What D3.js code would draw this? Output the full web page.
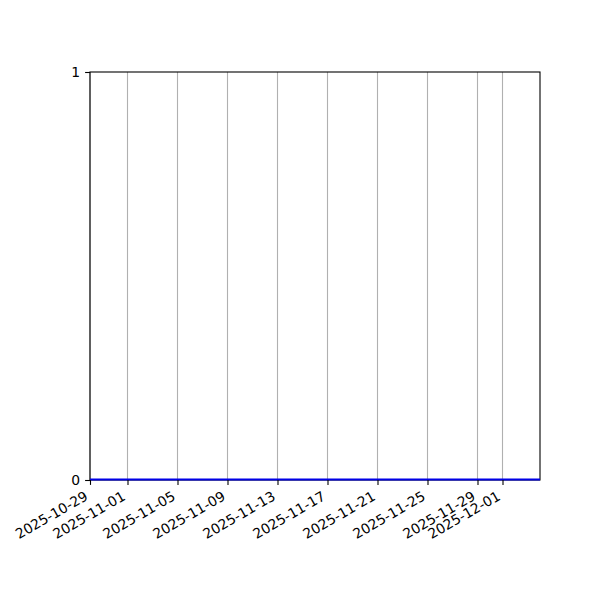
<!DOCTYPE html>
<html>
<head>
<meta charset="utf-8">
<script src="https://cdn.jsdelivr.net/npm/d3@7"></script>
<style>
  body { margin: 0; background: #fff; }
  text { font-family: "DejaVu Sans", sans-serif; }
</style>
</head>
<body>
<div class="canva"></div>
<script>
// data: one flat series at zero
var dates = ["2025-10-29","2025-10-30","2025-10-31","2025-11-01","2025-11-02","2025-11-03",
  "2025-11-04","2025-11-05","2025-11-06","2025-11-07","2025-11-08","2025-11-09","2025-11-10",
  "2025-11-11","2025-11-12","2025-11-13","2025-11-14","2025-11-15","2025-11-16","2025-11-17",
  "2025-11-18","2025-11-19","2025-11-20","2025-11-21","2025-11-22","2025-11-23","2025-11-24",
  "2025-11-25","2025-11-26","2025-11-27","2025-11-28","2025-11-29","2025-11-30","2025-12-01",
  "2025-12-02","2025-12-03","2025-12-04"];
var values = [0,0,0,0,0,0,0,0,0,0,0,0,0,0,0,0,0,0,0,0,0,0,0,0,0,0,0,0,0,0,0,0,0,0,0,0,0];
var xTickLabels = ["2025-10-29","2025-11-01","2025-11-05","2025-11-09","2025-11-13",
  "2025-11-17","2025-11-21","2025-11-25","2025-11-29","2025-12-01"];
var yTicks = [0, 1];

var margin = {top: 72, right: 60, bottom: 120, left: 90},
    width = 600 - margin.left - margin.right,
    height = 600 - margin.top - margin.bottom;

var parse = d3.utcParse("%Y-%m-%d");
var data = dates.map(function(d, i) { return {date: parse(d), value: values[i]}; });

var svg = d3.select(".canva")
  .append("svg")
    .attr("width", 600)
    .attr("height", 600)
  .append("g")
    .attr("transform", "translate(" + margin.left + "," + margin.top + ")");

var x = d3.scaleUtc()
  .domain(d3.extent(data, function(d) { return d.date; }))
  .range([0, width]);
var y = d3.scaleLinear()
  .domain([0, 1])
  .range([height, 0]);

// vertical grid
svg.selectAll(".grid")
  .data(xTickLabels)
  .enter()
  .append("line")
    .attr("x1", function(d) { return x(parse(d)); })
    .attr("x2", function(d) { return x(parse(d)); })
    .attr("y1", 0)
    .attr("y2", height)
    .attr("stroke", "#b0b0b0")
    .attr("stroke-width", 1.1);

// frame
svg.append("rect")
  .attr("width", width)
  .attr("height", height)
  .attr("fill", "none")
  .attr("stroke", "#000")
  .attr("stroke-width", 1.1);

// line (sits on top of the bottom spine, shifted up a hair)
svg.append("path")
  .datum(data)
  .attr("fill", "none")
  .attr("stroke", "#0000e6")
  .attr("stroke-width", 2)
  .attr("transform", "translate(0,-0.6)")
  .attr("d", d3.line()
    .x(function(d) { return x(d.date); })
    .y(function(d) { return y(d.value); }));

// X axis
var xAxis = svg.append("g")
  .attr("transform", "translate(0," + height + ")")
  .call(d3.axisBottom(x)
    .tickValues(xTickLabels.map(parse))
    .tickFormat(d3.utcFormat("%Y-%m-%d"))
    .tickSize(4.9)
    .tickSizeOuter(0));
xAxis.select(".domain").remove();
xAxis.selectAll(".tick line").attr("stroke-width", 1.1);
xAxis.selectAll("text")
  .attr("y", 0)
  .attr("dy", null)
  .attr("font-family", "DejaVu Sans")
  .attr("font-size", 13.9)
  .attr("fill", "#000")
  .attr("transform", "translate(-1.6,19) rotate(-30)")
  .style("text-anchor", "end");

// Y axis
var yAxis = svg.append("g")
  .call(d3.axisLeft(y)
    .tickValues(yTicks)
    .tickFormat(d3.format("d"))
    .tickSize(4.9)
    .tickPadding(4.9)
    .tickSizeOuter(0));
yAxis.select(".domain").remove();
yAxis.selectAll(".tick line").attr("stroke-width", 1.1);
yAxis.selectAll("text")
  .attr("font-family", "DejaVu Sans")
  .attr("font-size", 13.9)
  .attr("fill", "#000");
</script>
</body>
</html>
